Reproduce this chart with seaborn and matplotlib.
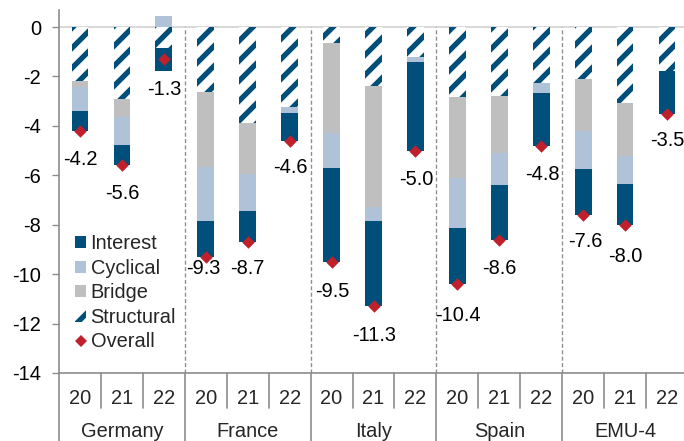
import numpy as np
import pandas as pd
import matplotlib
matplotlib.use("Agg")
import matplotlib.pyplot as plt
import matplotlib.transforms as mtransforms
from matplotlib.patches import Patch
from matplotlib.lines import Line2D
import seaborn as sns

# ---- data -------------------------------------------------------------
groups = ["Germany", "France", "Italy", "Spain", "EMU-4"]
years = ["20", "21", "22"]

structural = [-2.19, -2.91, -0.86, -2.62, -3.90, -3.23, -0.66, -2.39, -1.20,
              -2.85, -2.79, -2.28, -2.11, -3.09, -1.78]
bridge = [-0.23, -0.73, 0.00, -3.06, -2.05, 0.00, -3.62, -4.91, 0.00,
          -3.24, -2.32, 0.00, -2.10, -2.13, 0.00]
cyclical = [-0.98, -1.12, 0.46, -2.15, -1.50, -0.24, -1.44, -0.55, -0.22,
            -2.03, -1.27, -0.38, -1.54, -1.14, 0.00]
interest = [-0.80, -0.84, -0.90, -1.47, -1.25, -1.13, -3.78, -3.45, -3.58,
            -2.28, -2.22, -2.14, -1.85, -1.64, -1.72]
overall = [-4.2, -5.6, -1.3, -9.3, -8.7, -4.6, -9.5, -11.3, -5.0,
           -10.4, -8.6, -4.8, -7.6, -8.0, -3.5]

# ---- style ------------------------------------------------------------
NAVY = "#004F7A"
LIGHT = "#B0C2D8"
GREY = "#BFBFBF"
RED = "#C0202B"
AXIS = "#8C8C8C"

sns.set_style("white")
plt.rcParams["font.family"] = ["Liberation Sans", "DejaVu Sans"]
plt.rcParams["axes.unicode_minus"] = False
plt.rcParams["hatch.linewidth"] = 3.2
plt.rcParams["hatch.color"] = NAVY

fig = plt.figure(figsize=(5.7, 3.675), dpi=120)
ax = fig.add_axes([59 / 684, 68 / 441, 629 / 684, 363 / 441])

slots = [f"{g} {y}" for g in groups for y in years]
components = [("Structural", structural), ("Bridge", bridge),
              ("Cyclical", cyclical), ("Interest", interest)]
looks = {
    "Structural": dict(face="white", hatch="//"),
    "Bridge": dict(face=GREY, hatch=None),
    "Cyclical": dict(face=LIGHT, hatch=None),
    "Interest": dict(face=NAVY, hatch=None),
}

vals = np.array([c[1] for c in components], dtype=float)
slot_arr = np.array(slots)

# stacked bars: each layer drawn to its cumulative extent, outermost first
for side in (np.minimum, np.maximum):
    part = side(vals, 0.0)
    cum = np.cumsum(part, axis=0)
    for k in reversed(range(len(components))):
        name = components[k][0]
        mask = part[k] != 0
        if not mask.any():
            continue
        layer = pd.DataFrame({"slot": slot_arr[mask], "value": cum[k][mask]})
        n0 = len(ax.patches)
        sns.barplot(data=layer, x="slot", y="value", order=slots, width=0.4,
                    errorbar=None, saturation=1, color=looks[name]["face"],
                    ax=ax, zorder=2)
        for p in ax.patches[n0:]:
            p.set_facecolor(looks[name]["face"])
            p.set_linewidth(0)
            if looks[name]["hatch"]:
                p.set_edgecolor(NAVY)
                if hasattr(p, "set_hatchcolor"):
                    p.set_hatchcolor(NAVY)
                p.set_hatch(looks[name]["hatch"])

# overall balance markers
df = pd.DataFrame({"slot": slots, "overall": overall})
sns.stripplot(data=df, x="slot", y="overall", order=slots, jitter=False,
              marker="D", size=5.3, color=RED, linewidth=0, ax=ax, zorder=5)

# value labels under the markers (offsets in pixels)
label_dx = [0, 0, 0, -2, 0, 1, 1, 1, 1, 1, 0, 1, 2, 0, 0]
label_dy = [29, 28, 30, 12, 26, 27, 30, 29, 29, 31, 29, 29, 27, 32, 27]
px = 72 / fig.dpi
for i, v in enumerate(overall):
    ax.annotate(f"{v:.1f}", (i, v), xytext=(label_dx[i] * px, -label_dy[i] * px),
                textcoords="offset points", ha="center", va="center",
                fontsize=12, color="black", zorder=6)

# axes
ax.set_xlim(-0.5, 14.5)
ax.set_ylim(-14, 0.69)
ax.set_yticks(np.arange(-14, 1, 2))
ax.set_xticks([])
ax.set_xlabel("")
ax.set_ylabel("")
ax.tick_params(axis="y", length=4, width=0.8, color=AXIS, pad=6.6,
               labelsize=12, labelcolor="black", left=True)
for s in ("top", "right"):
    ax.spines[s].set_visible(False)
for s in ("left", "bottom"):
    ax.spines[s].set_color(AXIS)
    ax.spines[s].set_linewidth(1.0)

ax.axhline(0, color="#D9D9D9", lw=1.2, zorder=1)

# dashed separators between countries
for b in (2.5, 5.5, 8.5, 11.5):
    ax.plot([b, b], [-14, 0], color=AXIS, lw=0.8, ls=(0, (3, 1.8)), zorder=1)

# two-level category axis below the plot
trans = mtransforms.blended_transform_factory(ax.transData, ax.transAxes)
for j in range(16):
    b = j - 0.5
    bottom = -0.3 if j % 3 == 0 else -0.0964
    ax.plot([b, b], [0, bottom], transform=trans, color=AXIS, lw=1.0,
            clip_on=False)
for i, s in enumerate(slots):
    ax.text(i, -0.0854, years[i % 3], transform=trans, ha="center",
            va="baseline", fontsize=12)
for g, name in enumerate(groups):
    ax.text(3 * g + 1, -0.176, name, transform=trans, ha="center",
            va="baseline", fontsize=12)

# legend
handles = [
    Patch(facecolor=NAVY, linewidth=0, label="Interest"),
    Patch(facecolor=LIGHT, linewidth=0, label="Cyclical"),
    Patch(facecolor=GREY, linewidth=0, label="Bridge"),
    Patch(facecolor="white", edgecolor=NAVY, hatch="//", linewidth=0,
          label="Structural"),
    Line2D([], [], marker="D", color=RED, linestyle="none", markersize=5.3,
           markeredgewidth=0, label="Overall"),
]
fig.legend(handles=handles, loc="upper left",
           bbox_to_anchor=(75 / 684, 1 - 234 / 441), frameon=False,
           borderpad=0, borderaxespad=0, handlelength=0.55, handleheight=0.55,
           handletextpad=0.23, labelspacing=0.28, fontsize=12)

fig.savefig("out.png", dpi=120)
